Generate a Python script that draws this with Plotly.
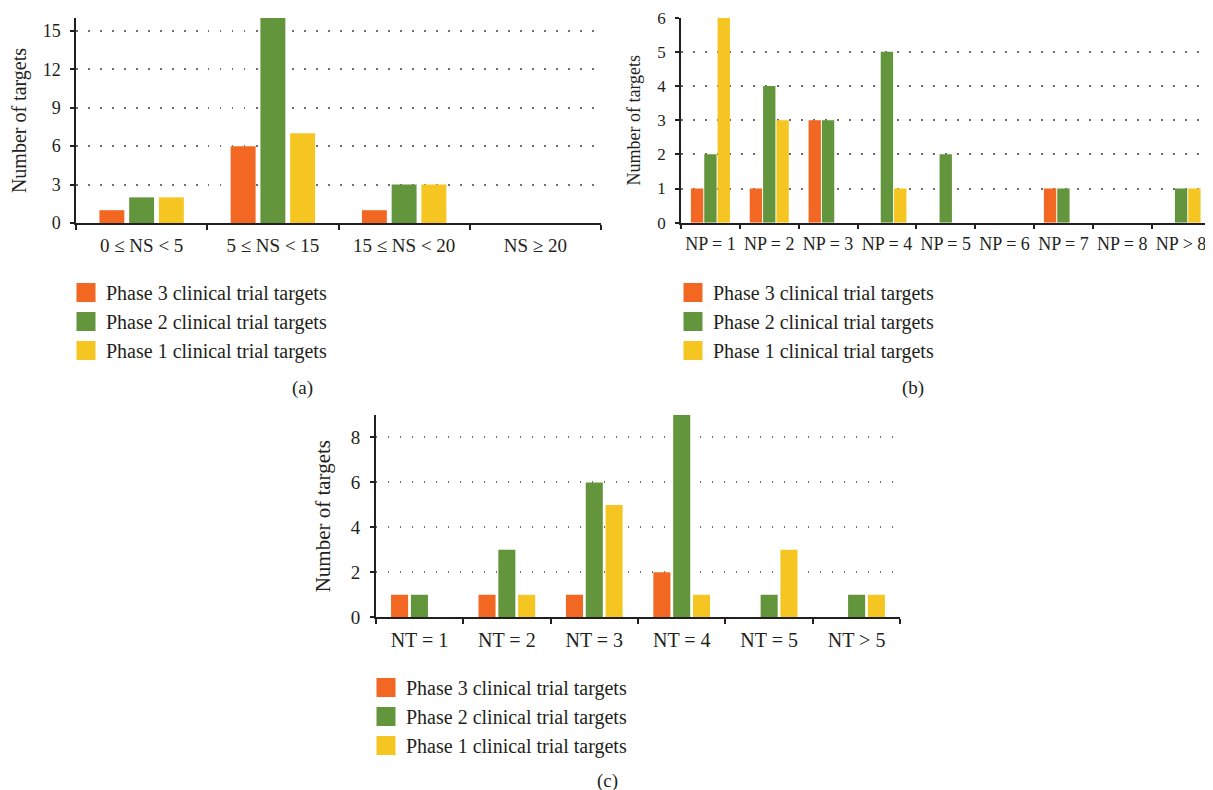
import plotly.graph_objects as go

# ---------------- data ----------------
ns_categories = ["0 ≤ NS < 5", "5 ≤ NS < 15", "15 ≤ NS < 20", "NS ≥ 20"]
ns_phase3 = [1, 6, 1, 0]
ns_phase2 = [2, 16, 3, 0]
ns_phase1 = [2, 7, 3, 0]

np_categories = ["NP = 1", "NP = 2", "NP = 3", "NP = 4", "NP = 5",
                 "NP = 6", "NP = 7", "NP = 8", "NP > 8"]
np_phase3 = [1, 1, 3, 0, 0, 0, 1, 0, 0]
np_phase2 = [2, 4, 3, 5, 2, 0, 1, 0, 1]
np_phase1 = [6, 3, 0, 1, 0, 0, 0, 0, 1]

nt_categories = ["NT = 1", "NT = 2", "NT = 3", "NT = 4", "NT = 5", "NT > 5"]
nt_phase3 = [1, 1, 1, 2, 0, 0]
nt_phase2 = [1, 3, 6, 9, 1, 1]
nt_phase1 = [0, 1, 5, 1, 3, 1]

series_names = ["Phase 3 clinical trial targets",
                "Phase 2 clinical trial targets",
                "Phase 1 clinical trial targets"]
series_colors = ["#F26722", "#63963C", "#F5C622"]

y_title = "Number of targets"
panel_labels = ["(a)", "(b)", "(c)"]

# ---------------- style / layout helpers ----------------
W, H = 1213, 790
OFF = 8  # default page body margin of the written html
FONT = "Liberation Serif, Times New Roman, serif"
INK = "#231F20"


def px_x(px):
    return (px - OFF) / W


def px_y(py):
    return 1 - (py - OFF) / H


panels = [
    dict(cats=ns_categories, vals=[ns_phase3, ns_phase2, ns_phase1],
         xa="x", ya="y", legend="legend", barw=0.19),
    dict(cats=np_categories, vals=[np_phase3, np_phase2, np_phase1],
         xa="x2", ya="y2", legend="legend2", barw=0.21),
    dict(cats=nt_categories, vals=[nt_phase3, nt_phase2, nt_phase1],
         xa="x3", ya="y3", legend="legend3", barw=0.195),
]

fig = go.Figure()
for p in panels:
    for name, color, vals in zip(series_names, series_colors, p["vals"]):
        fig.add_trace(go.Bar(
            x=p["cats"], y=vals, name=name,
            marker=dict(color=color, line=dict(width=0)),
            width=p["barw"], showlegend=False,
            xaxis=p["xa"], yaxis=p["ya"],
            hoverinfo="x+y+name",
        ))
    # legend entries (square swatches) for this panel
    for name, color in zip(series_names, series_colors):
        fig.add_trace(go.Scatter(
            x=[None], y=[None], mode="markers", name=name,
            marker=dict(symbol="square", size=16, color=color,
                        line=dict(width=3, color=color)),
            xaxis=p["xa"], yaxis=p["ya"], legend=p["legend"],
            hoverinfo="skip", showlegend=True,
        ))


def xaxis_cfg(x0, x1, tick_size):
    return dict(
        domain=[px_x(x0), px_x(x1)], type="category", automargin=False,
        showline=True, linecolor=INK, linewidth=1.5,
        ticks="outside", tickson="boundaries", ticklen=5,
        tickwidth=1.5, tickcolor=INK, tickangle=0,
        tickfont=dict(family=FONT, size=tick_size, color=INK),
        ticklabelstandoff=4,
        showgrid=False, zeroline=False, fixedrange=True,
    )


def yaxis_cfg(ybot, ytop, rng, dtick, tick_size, title_size, standoff):
    return dict(
        domain=[px_y(ybot), px_y(ytop)], range=rng, dtick=dtick, tick0=0,
        automargin=False,
        showline=True, linecolor=INK, linewidth=1.5,
        ticks="outside", ticklen=4, tickwidth=1.5, tickcolor=INK,
        tickfont=dict(family=FONT, size=tick_size, color=INK),
        ticklabelstandoff=6,
        showgrid=True, gridcolor="#6E6E6E", gridwidth=1.5,
        griddash="1.5px,10.5px",
        zeroline=False, fixedrange=True,
        title=dict(text=y_title, font=dict(family=FONT, size=title_size, color=INK),
                   standoff=standoff),
    )


legend_common = dict(
    font=dict(family=FONT, size=20, color=INK),
    bgcolor="rgba(0,0,0,0)", borderwidth=0,
    xanchor="left", yanchor="top", traceorder="normal",
    itemsizing="trace", itemclick=False, itemdoubleclick=False,
)

fig.update_layout(
    template="none",
    width=W, height=H,
    margin=dict(l=0, r=0, t=0, b=0, autoexpand=False),
    paper_bgcolor="white", plot_bgcolor="white",
    barmode="group", bargap=0.32, bargroupgap=0.0,
    font=dict(family=FONT, color=INK),
    hovermode="closest",
    xaxis=dict(xaxis_cfg(76, 601, 19), anchor="y"),
    yaxis=dict(yaxis_cfg(223, 18, [0, 16], 3, 18, 20, 12), anchor="x"),
    xaxis2=dict(xaxis_cfg(681, 1210.5, 18), anchor="y2"),
    yaxis2=dict(yaxis_cfg(222.7, 17.7, [0, 6], 1, 17, 18, 12), anchor="x2"),
    xaxis3=dict(xaxis_cfg(375.7, 900.3, 20), anchor="y3"),
    yaxis3=dict(yaxis_cfg(617.3, 415, [0, 9], 2, 19, 21, 14), anchor="x3"),
    legend=dict(legend_common, x=px_x(66), y=px_y(273)),
    legend2=dict(legend_common, x=px_x(673), y=px_y(273)),
    legend3=dict(legend_common, x=px_x(366), y=px_y(668)),
    showlegend=True,
)

label_pos = [(302, 388), (913, 388), (607, 781)]
for text, (px, py) in zip(panel_labels, label_pos):
    fig.add_annotation(text=text, x=px_x(px), y=px_y(py), xref="paper", yref="paper",
                       showarrow=False, xanchor="center", yanchor="middle",
                       font=dict(family=FONT, size=19, color=INK))

fig.write_html("out.html")
